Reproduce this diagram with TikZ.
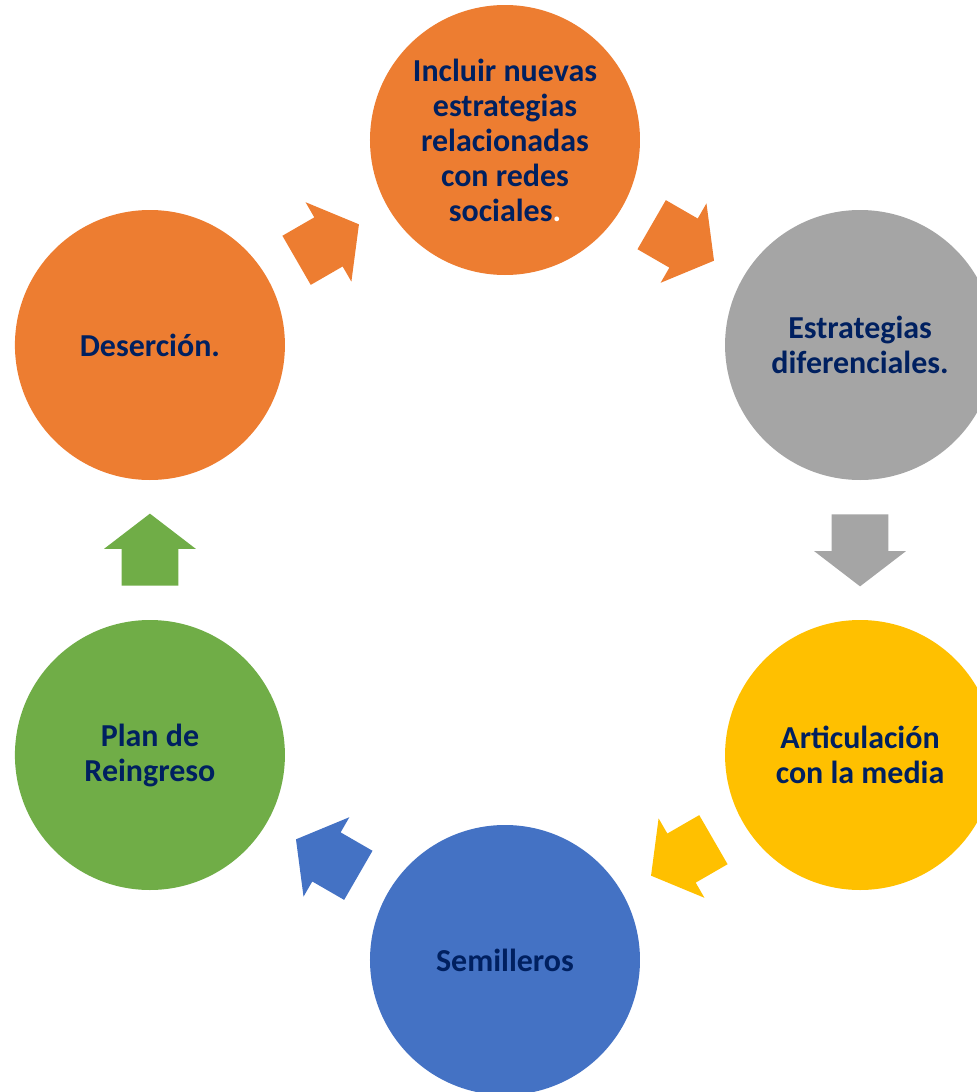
\documentclass[tikz,border=0pt]{standalone}
\usepackage{fontspec}
\setmainfont{Carlito}
\usepackage{tikz}
\usetikzlibrary{positioning,shapes.arrows,calc}
\definecolor{stageorange}{RGB}{237,125,49}
\definecolor{stagegray}{RGB}{165,165,165}
\definecolor{stageyellow}{RGB}{255,192,0}
\definecolor{stageblue}{RGB}{68,114,196}
\definecolor{stagegreen}{RGB}{112,173,71}
\definecolor{labelnavy}{RGB}{0,32,96}
\tikzset{
  stagenode/.style={circle, draw=none, minimum size=5.4cm, inner sep=0pt, text=labelnavy,
                    font=\fontsize{18.2}{19.9}\selectfont\bfseries, align=center},
  cyclearrow/.style={single arrow, draw=none, minimum height=1.44cm, inner xsep=0pt,
                     inner ysep=0.56cm, single arrow head extend=0.35cm, single arrow tip angle=105,
                     anchor=tail}
}
\begin{document}
\begin{tikzpicture}
  \clip (-10.1,-10.84) rectangle (9.44,11.0);

  % stages of the cycle
  \node[stagenode, fill=stageorange] (incluir) at (90:8.2)
       {Incluir nuevas\\estrategias\\relacionadas\\con redes\\sociales{\color{white}.}};
  \node[stagenode, fill=stagegray] (estrat) at (30:8.2) {Estrategias\\diferenciales.};
  \node[stagenode, fill=stageyellow] (artic) at (-30:8.2) {Articulación\\con la media};
  \node[stagenode, fill=stageblue] (semill) at (-90:8.2) {Semilleros};
  \node[stagenode, fill=stagegreen] (plan) at (210:8.2) {Plan de\\Reingreso};
  \node[stagenode, fill=stageorange] (deser) at (150:8.2) {Deserción.};

  % block arrows between stages
  \node[cyclearrow, fill=stageorange, rotate=30] (a1) at ($(deser)!3.38cm!(incluir)$) {};
  \node[cyclearrow, fill=stageorange, rotate=-30] (a2) at ($(incluir)!3.38cm!(estrat)$) {};
  \node[cyclearrow, fill=stagegray, rotate=-90] (a3) at ($(estrat)!3.38cm!(artic)$) {};
  \node[cyclearrow, fill=stageyellow, rotate=210] (a4) at ($(artic)!3.38cm!(semill)$) {};
  \node[cyclearrow, fill=stageblue, rotate=150] (a5) at ($(semill)!3.38cm!(plan)$) {};
  \node[cyclearrow, fill=stagegreen, rotate=90] (a6) at ($(plan)!3.38cm!(deser)$) {};
\end{tikzpicture}
\end{document}
